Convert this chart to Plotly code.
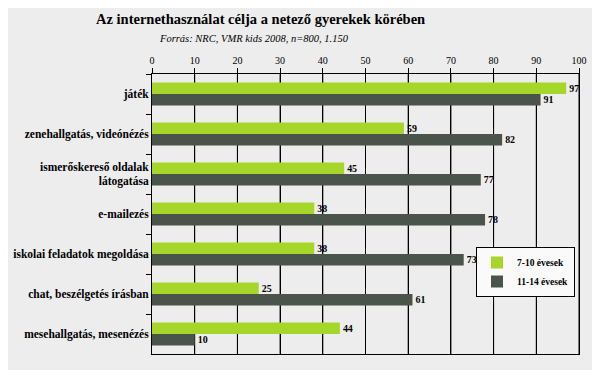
import plotly.graph_objects as go

categories = [
    "játék",
    "zenehallgatás, videónézés",
    "ismerőskereső oldalak<br>látogatása",
    "e-mailezés",
    "iskolai feladatok megoldása",
    "chat, beszélgetés írásban",
    "mesehallgatás, mesenézés",
]
young = [97, 59, 45, 38, 38, 25, 44]
older = [91, 82, 77, 78, 73, 61, 10]
series_names = ["7-10 évesek", "11-14 évesek"]
tick_vals = [0, 10, 20, 30, 40, 50, 60, 70, 80, 90, 100]

SERIF = "Times New Roman, Liberation Serif, serif"
fig = go.Figure()

# gridlines as a line trace on the base subplot, so the bars (on the overlaid axis) sit above them
gx, gy = [], []
for v in tick_vals[1:]:
    gx += [v, v, None]
    gy += [0, 1, None]
fig.add_trace(go.Scatter(x=gx, y=gy, mode="lines", line=dict(color="black", width=1),
                         showlegend=False, hoverinfo="skip", yaxis="y", cliponaxis=False))

for name, vals, color in [(series_names[0], young, "#A6D62A"), (series_names[1], older, "#4B544B")]:
    fig.add_trace(go.Bar(
        y=categories, x=vals, name="<b>" + name + "</b>", orientation="h", yaxis="y2",
        marker=dict(color=color, line=dict(width=0)),
        text=vals, textposition="outside", texttemplate="<b>%{x}</b>",
        textfont=dict(family=SERIF, size=12, color="black"),
        cliponaxis=False,
    ))

# the page body adds an 8px offset, so the figure itself is 8px smaller
fig.update_layout(
    width=592, height=362,
    paper_bgcolor="#EDEDED", plot_bgcolor="rgba(0,0,0,0)",
    margin=dict(l=144, r=21, t=66, b=16, autoexpand=False),
    barmode="group", bargap=0.42, bargroupgap=0,
    font=dict(family=SERIF, color="black"),
    showlegend=True,
    legend=dict(
        x=(567 - 144) / 427, y=(346 - 239) / 280, xanchor="right", yanchor="top",
        bgcolor="#FAFAFA", bordercolor="black", borderwidth=1,
        font=dict(family=SERIF, size=9.5, color="black"),
        traceorder="normal", itemwidth=30, tracegroupgap=2,
    ),
    yaxis=dict(range=[0, 1], showticklabels=False, ticks="", showgrid=False, zeroline=False,
               showline=True, linecolor="black", linewidth=1, mirror=True,
               automargin=False, fixedrange=True),
    yaxis2=dict(overlaying="y", side="left", autorange="reversed", automargin=False,
                showline=True, linecolor="black", linewidth=1,
                ticks="outside", ticklen=5, tickcolor="black", tickson="boundaries",
                tickfont=dict(family=SERIF, size=11.5, color="black"),
                tickprefix="<b>", ticksuffix="</b>", showgrid=False, zeroline=False),
)
fig.add_annotation(text="<b>Az internethasználat célja a netező gyerekek körében</b>",
                   xref="paper", yref="paper", x=(252 - 144) / 427, y=(346 - 11) / 280,
                   xanchor="center", yanchor="middle", showarrow=False,
                   font=dict(family=SERIF, size=14.5, color="black"))
fig.add_annotation(text="<i>Forrás: NRC, VMR kids 2008, n=800, 1.150</i>",
                   xref="paper", yref="paper", x=(246 - 144) / 427, y=(346 - 30) / 280,
                   xanchor="center", yanchor="middle", showarrow=False,
                   font=dict(family=SERIF, size=10.5, color="black"))

fig.update_xaxes(
    range=[0, 100], tickvals=tick_vals, side="top",
    showgrid=True, gridcolor="black", gridwidth=1,
    showline=True, linecolor="black", linewidth=1, mirror=True,
    ticks="outside", ticklen=5, tickcolor="black",
    tickfont=dict(family=SERIF, size=10, color="black"),
    tickprefix="<b>", ticksuffix="</b>",
    zeroline=False, automargin=False,
)

fig.write_html("out.html")
